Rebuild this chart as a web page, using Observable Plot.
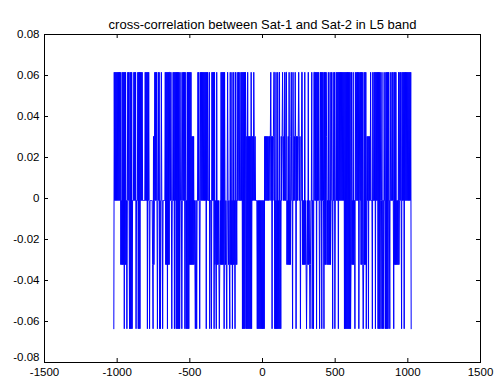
<!DOCTYPE html>
<html><head><meta charset="utf-8">
<script src="https://cdn.jsdelivr.net/npm/d3@7"></script>
<script src="https://cdn.jsdelivr.net/npm/@observablehq/plot@0.6"></script>
<style>html,body{margin:0;padding:0;background:#fff}svg{display:block}</style>
</head><body><div id="chart"></div>
<script>
const title = "cross-correlation between Sat-1 and Sat-2 in L5 band";
const xTicks = [-1500, -1000, -500, 0, 500, 1000, 1500];
const xTickLabels = ["-1500", "-1000", "-500", "0", "500", "1000", "1500"];
const yTicks = [-0.08, -0.06, -0.04, -0.02, 0, 0.02, 0.04, 0.06, 0.08];
const yTickLabels = ["-0.08", "-0.06", "-0.04", "-0.02", "0", "0.02", "0.04", "0.06", "0.08"];
const codeLength = 1023;
const firstLag = -1023;
const lastLag = 1023;
// correlation counts for level codes 0..4
const levelCounts = [-65, -33, -1, 31, 63];
// level code per sampled lag, read column by column from left to right
const levelCodes = [
  "0 42424242424242 41 21 4141404141 202 42420 404040 222 42 42402 22 4040404 24242 22222 42424042420 22222 210 312 424 242024240",
  "20 24220 22222 41414041414 42420 22 42404 24 040404040 22 420 24242402 40 20 40404 14141 313131 210 22022 4242024 242424242 4240424 222402220 4242404",
  "12104 12121012141 4141404 21210 24 21210 4121402141204121 42242242242 40 4040404 30304030303040 323243232 22 202020202020202020 32323232323",
  "32342303234 4020402040204020 3234323 24224 41213141213 4220422 32430 32323432302 24 412121412101214121012 2402204 42424042424202424042420",
  "41414 31 214121412 42204224022 4242404 24242424242 4040404040404040 14 12141 2204224 242402424 14141014141 40 232303232 4222042 24240424240",
  "40404 20 2402204220 4040404 2204222 42420 41414 1212141 242420424240 4242424242424240"
];

const codes = levelCodes.join("").replace(/\s+/g, "").split("");
const n = codes.length;
const series = codes.map((c, i) => ({
  lag: firstLag + i * (lastLag - firstLag) / (n - 1),
  value: levelCounts[+c] / codeLength
}));

const xLabel = new Map(xTicks.map((t, i) => [t, xTickLabels[i]]));
const yLabel = new Map(yTicks.map((t, i) => [t, yTickLabels[i]]));
const yBottom = yTicks[0];

const W = 495, H = 379, mL = 44, mR = 15, mT = 34, mB = 17;
const innerW = W - mL - mR, innerH = H - mT - mB;
const tickLen = 4;

const chart = Plot.plot({
  width: W, height: H,
  marginLeft: mL, marginRight: mR, marginTop: mT, marginBottom: mB,
  style: {fontFamily: "'Liberation Sans', Arial, sans-serif", fontSize: "11px", background: "#fff", color: "#000"},
  x: {domain: [-1500, 1500]},
  y: {domain: [-0.08, 0.08]},
  marks: [
    Plot.line(series, {x: "lag", y: "value", stroke: "#0000ff", strokeWidth: 1}),
    Plot.frame({stroke: "#000"}),
    Plot.tickX(xTicks, {x: d => d, insetTop: innerH - tickLen, stroke: "#000"}),
    Plot.tickX(xTicks, {x: d => d, insetBottom: innerH - tickLen, stroke: "#000"}),
    Plot.tickY(yTicks, {y: d => d, insetRight: innerW - tickLen, stroke: "#000"}),
    Plot.tickY(yTicks, {y: d => d, insetLeft: innerW - tickLen, stroke: "#000"}),
    Plot.axisX(xTicks, {tickSize: 0, tickPadding: 5, tickFormat: d => xLabel.get(d), label: null, fontSize: 11.5}),
    Plot.axisY(yTicks.filter(t => t !== yBottom), {tickSize: 0, tickPadding: 5, tickFormat: d => yLabel.get(d), label: null, fontSize: 11.5}),
    Plot.axisY([yBottom], {tickSize: 0, tickPadding: 5, dy: -5, tickFormat: d => yLabel.get(d), label: null, fontSize: 11.5}),
    Plot.text([title], {frameAnchor: "top", dy: -15, text: d => d, fontSize: 13, fill: "#000"})
  ]
});
document.getElementById("chart").appendChild(chart);
</script>
</body></html>
